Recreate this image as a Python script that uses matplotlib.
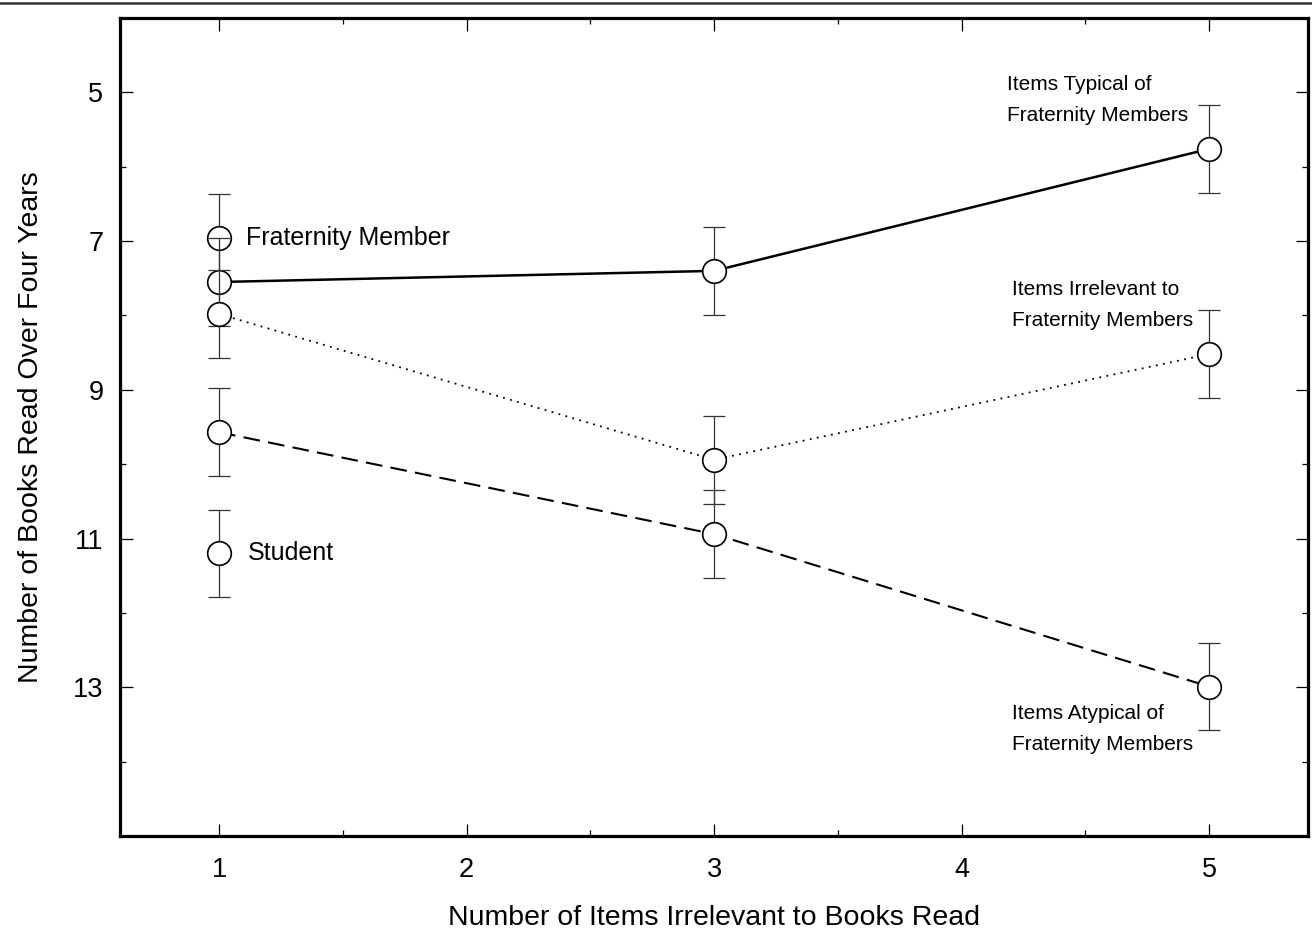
import numpy as np
import matplotlib
matplotlib.use("Agg")
import matplotlib.pyplot as plt
from matplotlib.lines import Line2D
from matplotlib.ticker import MultipleLocator

plt.rcParams['font.family'] = ['Liberation Sans', 'DejaVu Sans']

# data
x = [1, 3, 5]
typical = [7.55, 7.40, 5.76]      # solid
irrelevant = [7.98, 9.94, 8.52]   # dotted
atypical = [9.57, 10.94, 12.99]   # dashed
err = 0.59                        # same error for all points
legend_fm = 6.96                  # "Fraternity Member" marker at x=1
legend_st = 11.20                 # "Student" marker at x=1

fig = plt.figure(figsize=(13.12, 9.34), dpi=100)
ax = fig.add_axes([0.0915, 0.1049, 0.9055, 0.8758])

# rule at the top of the page
fig.add_artist(Line2D([0, 1], [1 - 3/934, 1 - 3/934], transform=fig.transFigure,
                      color='#333333', lw=1.8))

mk = dict(marker='o', ms=17, mfc='white', mec='black', mew=1.2)
eb = dict(yerr=err, fmt='none', ecolor='#333333', elinewidth=0.9, capsize=8, capthick=0.9)

z = 2
# legend marker (Fraternity Member)
ax.errorbar([1], [legend_fm], zorder=z, **eb)
ax.plot([1], [legend_fm], ls='none', zorder=z + 1, **mk)
z += 2
# series
for ys, style in [(typical, dict(ls='-', lw=1.8)),
                  (irrelevant, dict(ls=(0, (1, 3)), lw=1.3)),
                  (atypical, dict(ls=(0, (8, 4)), lw=1.5))]:
    ax.plot(x, ys, color='black', zorder=z, **style)
    ax.errorbar(x, ys, zorder=z, **eb)
    ax.plot(x, ys, ls='none', zorder=z + 1, **mk)
    z += 2
# legend marker (Student)
ax.errorbar([1], [legend_st], zorder=z, **eb)
ax.plot([1], [legend_st], ls='none', zorder=z + 1, **mk)

ax.text(1.11, legend_fm, 'Fraternity Member', fontsize=18, va='center', ha='left')
ax.text(1.115, legend_st, 'Student', fontsize=18, va='center', ha='left')

ax.text(4.185, 5.10, 'Items Typical of\nFraternity Members', fontsize=15,
        va='center', ha='left', linespacing=1.8)
ax.text(4.205, 7.86, 'Items Irrelevant to\nFraternity Members', fontsize=15,
        va='center', ha='left', linespacing=1.8)
ax.text(4.205, 13.56, 'Items Atypical of\nFraternity Members', fontsize=15,
        va='center', ha='left', linespacing=1.8)

ax.set_xlim(0.6, 5.4)
ax.set_ylim(15, 4)
ax.xaxis.set_major_locator(MultipleLocator(1))
ax.xaxis.set_minor_locator(MultipleLocator(0.5))
ax.set_yticks([5, 7, 9, 11, 13])
ax.set_yticks([6, 8, 10, 12, 14], minor=True)

ax.tick_params(which='both', direction='in', top=True, right=True, width=0.9, labelsize=19.5)
ax.tick_params(which='major', length=9)
ax.tick_params(which='minor', length=4)
ax.tick_params(axis='y', pad=12)
ax.tick_params(axis='x', pad=15)
for s in ax.spines.values():
    s.set_linewidth(2.3)

ax.set_xlabel('Number of Items Irrelevant to Books Read', fontsize=20.5, labelpad=16)
ax.set_ylabel('Number of Books Read Over Four Years', fontsize=20.5, labelpad=21)

fig.savefig('out.png', dpi=100)
